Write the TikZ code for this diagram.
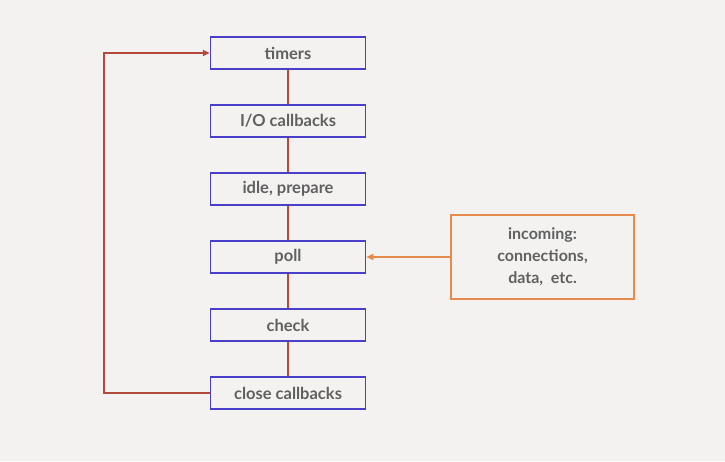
\documentclass[tikz,border=0pt]{standalone}
\usepackage{fontspec}
\setmainfont{Lato}
\usetikzlibrary{positioning,arrows.meta}
\definecolor{bgc}{HTML}{F3F2F1}
\definecolor{phase}{HTML}{4A3FCB}
\definecolor{loopc}{HTML}{B4483B}
\definecolor{inc}{HTML}{E58C4C}
\definecolor{txt}{HTML}{606060}
\tikzset{
  phasebox/.style={draw=phase, line width=1.5pt, fill=bgc, minimum width=155pt, minimum height=32pt, inner sep=0pt, text=txt, font=\bfseries\fontsize{16.5}{18}\selectfont},
  inbox/.style={draw=inc, line width=1.6pt, fill=bgc, minimum width=183pt, minimum height=84pt, align=center, text=txt, font=\bfseries\fontsize{16}{22}\selectfont},
  link/.style={draw=loopc, line width=1.8pt}
}
\begin{document}
\begin{tikzpicture}[x=1pt, y=-1pt, node distance=34.5pt]
  \fill[bgc] (0,0) rectangle (725,461);
  \useasboundingbox (0,0) rectangle (725,461);

  \node[phasebox] (timers) at (288,53) {timers};
  \node[phasebox, below=of timers] (io) {I/O callbacks};
  \node[phasebox, below=of io] (idle) {idle, prepare};
  \node[phasebox, below=of idle] (poll) {poll};
  \node[phasebox, below=of poll] (check) {check};
  \node[phasebox, below=of check] (close) {close callbacks};

  \node[inbox, right=84pt of poll] (incoming) {incoming:\\connections,\\data,\ \ etc.};

  \draw[link] (timers.south) -- (io.north);
  \draw[link] (io.south) -- (idle.north);
  \draw[link] (idle.south) -- (poll.north);
  \draw[link] (poll.south) -- (check.north);
  \draw[link] (check.south) -- (close.north);
  \coordinate (loopx) at (104,0);
  \draw[link, -{Triangle[length=7pt,width=6pt]}] (close.west) -- (close.west -| loopx) -- (timers.west -| loopx) -- (timers.west);

  \draw[draw=inc, line width=1.5pt, -{Triangle[length=7pt,width=6pt]}] (incoming.west) -- (poll.east);
\end{tikzpicture}
\end{document}
